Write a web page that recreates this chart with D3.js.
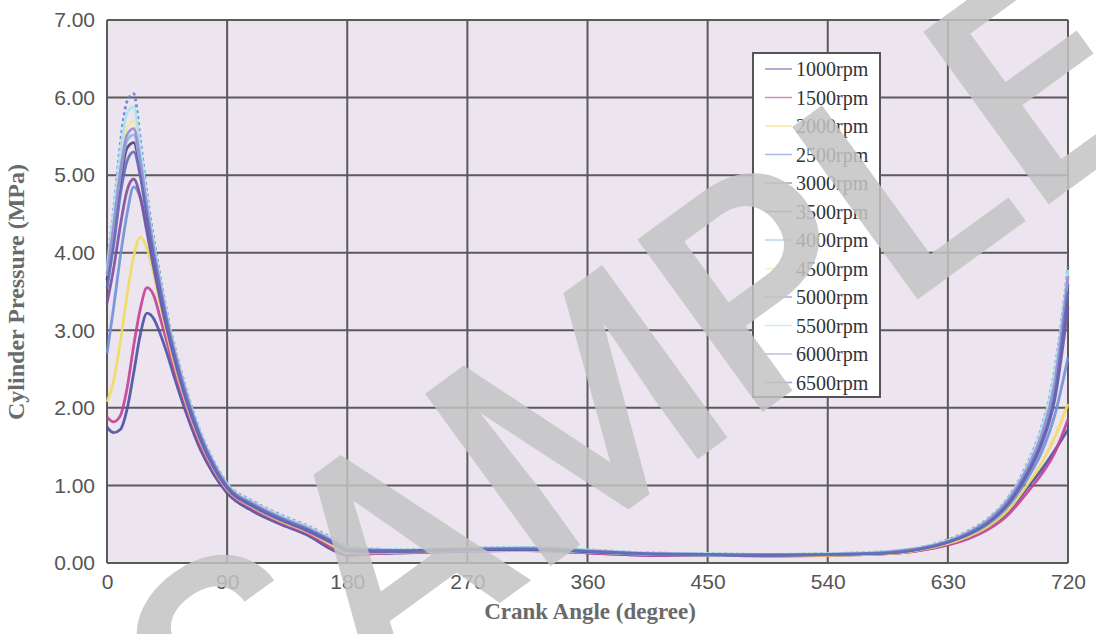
<!DOCTYPE html>
<html>
<head>
<meta charset="utf-8">
<script src="https://cdn.jsdelivr.net/npm/d3@7"></script>
<style>
  body { margin: 0; background: #fff; }
</style>
</head>
<body>
<div id="chart"></div>
<script>
// crank angle samples (degree)
const angles = [0, 5, 10, 15, 20, 25, 30, 35, 40, 45, 50, 60, 70, 80, 90, 110, 130, 150, 170, 180, 200, 225, 270, 315, 360, 405, 450, 495, 540, 585, 615, 630, 645, 660, 675, 690, 700, 710, 720]

const seriesNames = ['1000rpm', '1500rpm', '2000rpm', '2500rpm', '3000rpm', '3500rpm', '4000rpm', '4500rpm', '5000rpm', '5500rpm', '6000rpm', '6500rpm']

// cylinder pressure (MPa), one list per engine speed
const p1000 = [1.75, 1.68, 1.72, 1.98, 2.45, 2.95, 3.22, 3.15, 2.95, 2.70, 2.42, 1.90, 1.46, 1.14, 0.90, 0.66, 0.50, 0.36, 0.16, 0.10, 0.12, 0.13, 0.15, 0.16, 0.13, 0.10, 0.10, 0.10, 0.10, 0.12, 0.18, 0.24, 0.33, 0.46, 0.66, 0.98, 1.20, 1.45, 1.72]
const p1500 = [1.88, 1.82, 1.90, 2.25, 2.80, 3.28, 3.55, 3.45, 3.15, 2.84, 2.52, 1.97, 1.52, 1.18, 0.93, 0.69, 0.52, 0.38, 0.18, 0.10, 0.12, 0.14, 0.16, 0.16, 0.13, 0.10, 0.10, 0.09, 0.10, 0.12, 0.18, 0.23, 0.31, 0.43, 0.62, 0.92, 1.14, 1.42, 1.85]
const p2000 = [2.08, 2.35, 2.85, 3.45, 3.95, 4.20, 4.05, 3.72, 3.32, 2.95, 2.60, 2.02, 1.56, 1.21, 0.95, 0.71, 0.54, 0.40, 0.22, 0.13, 0.13, 0.14, 0.16, 0.16, 0.14, 0.11, 0.10, 0.10, 0.10, 0.12, 0.19, 0.25, 0.34, 0.47, 0.68, 1.02, 1.28, 1.62, 2.05]
const p2500 = [2.70, 3.30, 3.95, 4.50, 4.85, 4.70, 4.25, 3.80, 3.38, 3.00, 2.65, 2.05, 1.58, 1.22, 0.96, 0.72, 0.55, 0.41, 0.24, 0.15, 0.14, 0.15, 0.17, 0.17, 0.14, 0.11, 0.10, 0.10, 0.11, 0.13, 0.20, 0.27, 0.36, 0.50, 0.73, 1.10, 1.42, 1.90, 2.65]
const p3000 = [3.35, 3.80, 4.35, 4.80, 4.95, 4.72, 4.28, 3.82, 3.40, 3.02, 2.68, 2.08, 1.60, 1.24, 0.97, 0.73, 0.56, 0.42, 0.25, 0.16, 0.15, 0.15, 0.17, 0.18, 0.15, 0.12, 0.11, 0.10, 0.11, 0.13, 0.20, 0.27, 0.37, 0.52, 0.76, 1.16, 1.52, 2.10, 3.30]
const p3500 = [3.65, 4.25, 4.90, 5.35, 5.42, 5.05, 4.50, 3.98, 3.52, 3.10, 2.74, 2.12, 1.63, 1.26, 0.99, 0.75, 0.58, 0.44, 0.27, 0.18, 0.16, 0.16, 0.18, 0.18, 0.15, 0.12, 0.11, 0.11, 0.11, 0.14, 0.21, 0.28, 0.38, 0.53, 0.78, 1.20, 1.58, 2.20, 3.60]
const p4000 = [3.70, 4.30, 5.00, 5.45, 5.52, 5.12, 4.55, 4.02, 3.55, 3.12, 2.76, 2.14, 1.64, 1.27, 1.00, 0.76, 0.59, 0.45, 0.28, 0.19, 0.17, 0.16, 0.18, 0.19, 0.16, 0.12, 0.11, 0.11, 0.11, 0.14, 0.21, 0.28, 0.39, 0.54, 0.80, 1.22, 1.62, 2.28, 3.68]
const p4500 = [3.75, 4.40, 5.15, 5.62, 5.70, 5.25, 4.62, 4.08, 3.60, 3.16, 2.79, 2.16, 1.66, 1.28, 1.01, 0.77, 0.60, 0.46, 0.29, 0.20, 0.17, 0.17, 0.19, 0.19, 0.16, 0.13, 0.12, 0.11, 0.12, 0.14, 0.22, 0.29, 0.40, 0.56, 0.82, 1.26, 1.68, 2.38, 3.72]
const p5000 = [3.85, 4.55, 5.40, 5.95, 6.05, 5.45, 4.75, 4.18, 3.68, 3.22, 2.84, 2.20, 1.69, 1.31, 1.03, 0.79, 0.62, 0.48, 0.31, 0.22, 0.18, 0.17, 0.19, 0.20, 0.17, 0.13, 0.12, 0.11, 0.12, 0.15, 0.22, 0.30, 0.41, 0.57, 0.84, 1.30, 1.74, 2.48, 3.82]
const p5500 = [3.80, 4.50, 5.30, 5.80, 5.88, 5.35, 4.68, 4.12, 3.64, 3.19, 2.82, 2.18, 1.68, 1.30, 1.02, 0.78, 0.61, 0.47, 0.30, 0.21, 0.18, 0.17, 0.19, 0.20, 0.17, 0.13, 0.12, 0.11, 0.12, 0.15, 0.22, 0.29, 0.40, 0.56, 0.83, 1.28, 1.72, 2.44, 3.78]
const p6000 = [3.72, 4.35, 5.05, 5.52, 5.60, 5.18, 4.58, 4.05, 3.57, 3.14, 2.77, 2.15, 1.65, 1.28, 1.00, 0.76, 0.59, 0.45, 0.28, 0.19, 0.17, 0.16, 0.18, 0.19, 0.16, 0.12, 0.11, 0.11, 0.11, 0.14, 0.21, 0.28, 0.39, 0.55, 0.81, 1.24, 1.64, 2.32, 3.70]
const p6500 = [3.55, 4.10, 4.75, 5.18, 5.30, 4.98, 4.45, 3.95, 3.50, 3.08, 2.72, 2.10, 1.62, 1.25, 0.98, 0.74, 0.57, 0.43, 0.26, 0.17, 0.16, 0.16, 0.18, 0.18, 0.15, 0.12, 0.11, 0.10, 0.11, 0.13, 0.20, 0.27, 0.37, 0.52, 0.77, 1.18, 1.55, 2.15, 3.50]

const seriesColors = ['#4b4fa0', '#c2409a', '#f0dc60', '#6f8fd8', '#7a4f9e', '#4a3f78', '#8fb4e8', '#efe6a0', '#6a7fcf', '#a8e4ee', '#9a8ad0', '#5d6ab8']

const xTicks = [0, 90, 180, 270, 360, 450, 540, 630, 720]
const yTicks = [0, 1, 2, 3, 4, 5, 6, 7]

const allSeries = [p1000, p1500, p2000, p2500, p3000, p3500, p4000, p4500, p5000, p5500, p6000, p6500]

const width = 1096
const height = 634
const margin = { left: 107, top: 20, right: 28, bottom: 71 }

const svg = d3.select('#chart').append('svg')
  .attr('width', width)
  .attr('height', height)

const x = d3.scaleLinear()
  .domain([0, 720])
  .range([margin.left, width - margin.right])

const y = d3.scaleLinear()
  .domain([0, 7])
  .range([height - margin.bottom, margin.top])

// plot background
svg.append('rect')
  .attr('x', x(0))
  .attr('y', y(7))
  .attr('width', x(720) - x(0))
  .attr('height', y(0) - y(7))
  .attr('fill', '#ece4ee')

// grid lines
svg.append('g')
  .selectAll('line')
  .data(xTicks)
  .join('line')
  .attr('x1', d => x(d))
  .attr('x2', d => x(d))
  .attr('y1', y(0))
  .attr('y2', y(7))
  .attr('stroke', '#5a5a5a')
  .attr('stroke-width', 2)

svg.append('g')
  .selectAll('line')
  .data(yTicks)
  .join('line')
  .attr('x1', x(0))
  .attr('x2', x(720))
  .attr('y1', d => y(d))
  .attr('y2', d => y(d))
  .attr('stroke', '#5a5a5a')
  .attr('stroke-width', 2)

// axes, tick labels only
const xAxis = svg.append('g')
  .attr('transform', `translate(0, ${y(0)})`)
  .call(d3.axisBottom(x).tickValues(xTicks).tickSize(0).tickPadding(11).tickFormat(d3.format('d')))
xAxis.select('.domain').remove()
xAxis.selectAll('text')
  .attr('font-family', 'Liberation Sans, Arial, sans-serif')
  .attr('font-size', 21)
  .attr('fill', '#555')

const yAxis = svg.append('g')
  .attr('transform', `translate(${x(0)}, 0)`)
  .call(d3.axisLeft(y).tickValues(yTicks).tickSize(0).tickPadding(12).tickFormat(d3.format('.2f')))
yAxis.select('.domain').remove()
yAxis.selectAll('text')
  .attr('font-family', 'Liberation Sans, Arial, sans-serif')
  .attr('font-size', 21)
  .attr('fill', '#555')

// pressure curves
const line = d3.line()
  .x((d, i) => x(angles[i]))
  .y(d => y(d))
  .curve(d3.curveMonotoneX)

svg.append('g')
  .selectAll('path')
  .data(allSeries)
  .join('path')
  .attr('d', d => line(d))
  .attr('fill', 'none')
  .attr('stroke', (d, i) => seriesColors[i])
  .attr('stroke-width', 2.8)
  .attr('stroke-dasharray', (d, i) => seriesNames[i] === '5000rpm' ? '3 3' : null)
  .attr('opacity', 0.9)

// axis titles
svg.append('text')
  .attr('x', 590)
  .attr('y', 619)
  .attr('text-anchor', 'middle')
  .attr('font-family', 'Liberation Serif, Times New Roman, serif')
  .attr('font-weight', 'bold')
  .attr('font-size', 23)
  .attr('fill', '#6a6a6a')
  .text('Crank Angle (degree)')

svg.append('text')
  .attr('transform', `translate(24, 292) rotate(-90)`)
  .attr('text-anchor', 'middle')
  .attr('font-family', 'Liberation Serif, Times New Roman, serif')
  .attr('font-weight', 'bold')
  .attr('font-size', 24)
  .attr('fill', '#6a6a6a')
  .text('Cylinder Pressure (MPa)')

// legend
const legend = svg.append('g')
  .attr('transform', 'translate(753, 53)')

legend.append('rect')
  .attr('width', 127)
  .attr('height', 344)
  .attr('fill', '#fff')
  .attr('stroke', '#555')
  .attr('stroke-width', 2)

const items = legend.selectAll('g')
  .data(seriesNames)
  .join('g')
  .attr('transform', (d, i) => `translate(0, ${16 + i * 28.5})`)

items.append('line')
  .attr('x1', 12)
  .attr('x2', 39)
  .attr('stroke', (d, i) => seriesColors[i])
  .attr('stroke-width', 1.5)
  .attr('opacity', 0.6)

items.append('text')
  .attr('x', 43)
  .attr('dy', '0.35em')
  .attr('font-family', 'Liberation Serif, Times New Roman, serif')
  .attr('font-size', 20)
  .attr('fill', '#333')
  .text(d => d)

// watermark
svg.append('text')
  .attr('transform', 'translate(635, 375) rotate(-36)')
  .attr('text-anchor', 'middle')
  .attr('dy', '0.35em')
  .attr('font-family', 'Roboto, Liberation Sans, sans-serif')
  .attr('font-weight', 500)
  .attr('font-size', 300)
  .attr('fill', '#c4c4c4')
  .attr('opacity', 0.85)
  .text('SAMPLE')
</script>
</body>
</html>
